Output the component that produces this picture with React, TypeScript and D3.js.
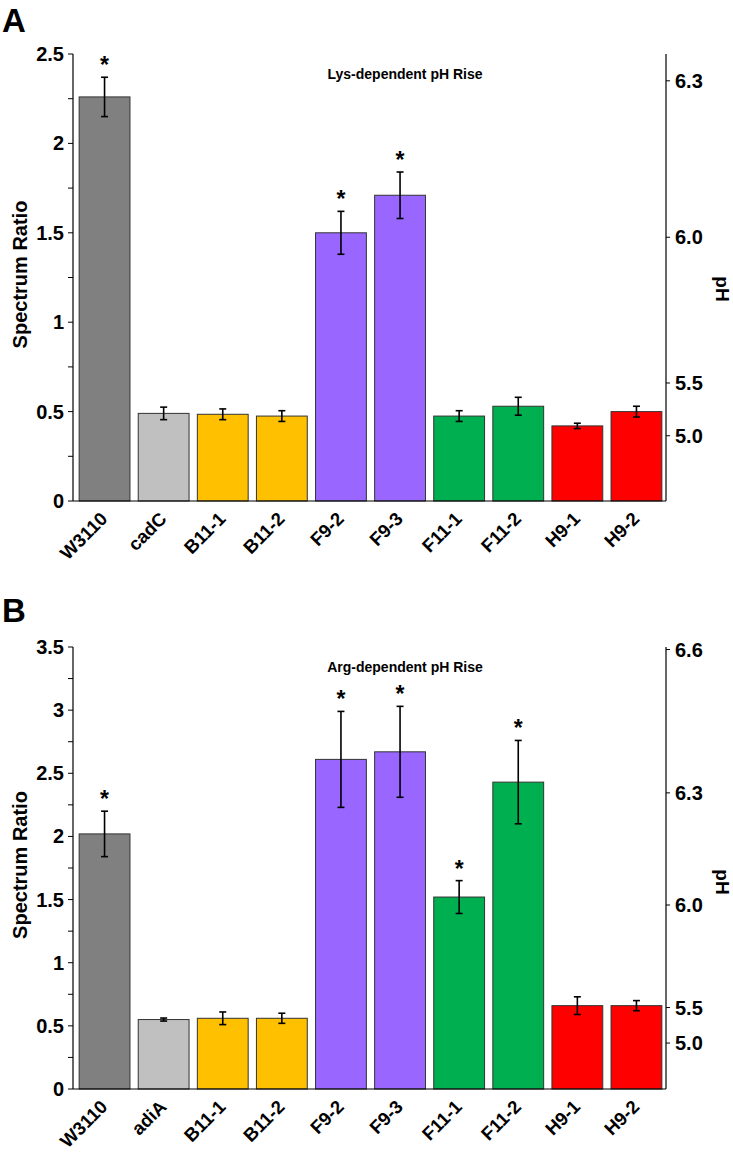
import React from "react";
import * as d3 from "d3";

const strainsA = ["W3110", "cadC", "B11-1", "B11-2", "F9-2", "F9-3", "F11-1", "F11-2", "H9-1", "H9-2"];
const strainsB = ["W3110", "adiA", "B11-1", "B11-2", "F9-2", "F9-3", "F11-1", "F11-2", "H9-1", "H9-2"];
const barColors = ["#808080", "#C0C0C0", "#FFC000", "#FFC000", "#9966FF", "#9966FF", "#00B050", "#00B050", "#FF0000", "#FF0000"];

const lysValues = [2.26, 0.49, 0.485, 0.475, 1.5, 1.71, 0.475, 0.53, 0.42, 0.5];
const lysErrors = [0.11, 0.035, 0.03, 0.03, 0.12, 0.13, 0.03, 0.05, 0.015, 0.03];
const lysStars = [true, false, false, false, true, true, false, false, false, false];

const argValues = [2.02, 0.55, 0.56, 0.56, 2.61, 2.67, 1.52, 2.43, 0.66, 0.66];
const argErrors = [0.18, 0.012, 0.05, 0.04, 0.38, 0.36, 0.13, 0.33, 0.07, 0.04];
const argStars = [true, false, false, false, true, true, true, true, false, false];

const lysYTicks = [0, 0.5, 1, 1.5, 2, 2.5];
const argYTicks = [0, 0.5, 1, 1.5, 2, 2.5, 3, 3.5];
// pH tick labels and the spectrum-ratio level where each sits
const lysPhLabels = ["5.0", "5.5", "6.0", "6.3"];
const lysPhAt = [0.365, 0.66, 1.475, 2.35];
const argPhLabels = ["5.0", "5.5", "6.0", "6.3", "6.6"];
const argPhAt = [0.364, 0.645, 1.457, 2.345, 3.48];

const FONT = "'Liberation Sans', Arial, Helvetica, sans-serif";

type PanelProps = {
  letter: string;
  letterY: number;
  title: string;
  strains: string[];
  values: number[];
  errors: number[];
  stars: boolean[];
  yMax: number;
  yTicks: number[];
  phLabels: string[];
  phAt: number[];
  top: number;
  bottom: number;
};

function Panel(p: PanelProps) {
  const left = 73;
  const right = 666;
  const x = d3.scaleBand<string>().domain(p.strains).range([left + 2, right]).paddingInner(0.14).paddingOuter(0.07);
  const y = d3.scaleLinear().domain([0, p.yMax]).range([p.bottom, p.top]);
  const minor = d3.range(0, p.yMax + 0.001, 0.25);
  const midY = (p.top + p.bottom) / 2;
  return (
    <g fontFamily={FONT}>
      <text x={2} y={p.letterY} fontSize={33} fontWeight="bold">{p.letter}</text>
      <text x={405} y={p.top + 25} fontSize={14} fontWeight="bold" textAnchor="middle">{p.title}</text>
      {p.values.map((v, i) => {
        const bx = x(p.strains[i])!;
        const bw = x.bandwidth();
        const cx = bx + bw / 2;
        const hi = y(v + p.errors[i]);
        const lo = y(v - p.errors[i]);
        const lx = cx + 4;
        const ly = p.bottom + 19;
        return (
          <g key={i}>
            <rect x={bx} y={y(v)} width={bw} height={p.bottom - y(v)} fill={barColors[i]} stroke="#333" strokeWidth={1} />
            <line x1={cx} x2={cx} y1={hi} y2={lo} stroke="#000" strokeWidth={1.6} />
            <line x1={cx - 3.5} x2={cx + 3.5} y1={hi} y2={hi} stroke="#000" strokeWidth={1.6} />
            <line x1={cx - 3.5} x2={cx + 3.5} y1={lo} y2={lo} stroke="#000" strokeWidth={1.6} />
            {p.stars[i] && (
              <text x={cx} y={hi - 4} fontSize={23} fontWeight="bold" textAnchor="middle">*</text>
            )}
            <text x={lx} y={ly} fontSize={18.5} fontWeight="bold" textAnchor="end" transform={`rotate(-45 ${lx} ${ly})`}>
              {p.strains[i]}
            </text>
          </g>
        );
      })}
      {/* left axis */}
      <line x1={left} x2={left} y1={p.top} y2={p.bottom} stroke="#000" strokeWidth={1.2} />
      {minor.map((t, i) => (
        <line key={i} x1={left - 5} x2={left} y1={y(t)} y2={y(t)} stroke="#000" strokeWidth={1} />
      ))}
      {p.yTicks.map((t, i) => (
        <text key={i} x={left - 9} y={y(t) + 7} fontSize={20} fontWeight="bold" textAnchor="end">
          {d3.format("~g")(t)}
        </text>
      ))}
      <text x={0} y={0} fontSize={20} fontWeight="bold" textAnchor="middle" transform={`translate(27,${midY - 3}) rotate(-90)`}>
        Spectrum Ratio
      </text>
      {/* baseline */}
      <line x1={left} x2={right} y1={p.bottom} y2={p.bottom} stroke="#000" strokeWidth={1.2} />
      {/* right axis */}
      <line x1={right} x2={right} y1={p.top} y2={p.bottom} stroke="#000" strokeWidth={1.2} />
      {p.phLabels.map((lab, i) => (
        <g key={i}>
          <line x1={right} x2={right + 4} y1={y(p.phAt[i])} y2={y(p.phAt[i])} stroke="#000" strokeWidth={1} />
          <text x={right + 9} y={y(p.phAt[i]) + 7} fontSize={20} fontWeight="bold">{lab}</text>
        </g>
      ))}
      <text x={0} y={0} fontSize={19} fontWeight="bold" textAnchor="middle" transform={`translate(716,${p.top + 235}) rotate(90)`}>
        pH
      </text>
    </g>
  );
}

export default function App() {
  return (
    <svg width={733} height={1157} style={{ position: "absolute", left: 0, top: 0, background: "#fff" }}>
      <rect width={733} height={1157} fill="#fff" />
      <Panel
        letter="A"
        letterY={32}
        title="Lys-dependent pH Rise"
        strains={strainsA}
        values={lysValues}
        errors={lysErrors}
        stars={lysStars}
        yMax={2.5}
        yTicks={lysYTicks}
        phLabels={lysPhLabels}
        phAt={lysPhAt}
        top={54}
        bottom={501}
      />
      <Panel
        letter="B"
        letterY={622}
        title="Arg-dependent pH Rise"
        strains={strainsB}
        values={argValues}
        errors={argErrors}
        stars={argStars}
        yMax={3.5}
        yTicks={argYTicks}
        phLabels={argPhLabels}
        phAt={argPhAt}
        top={647}
        bottom={1089}
      />
    </svg>
  );
}
